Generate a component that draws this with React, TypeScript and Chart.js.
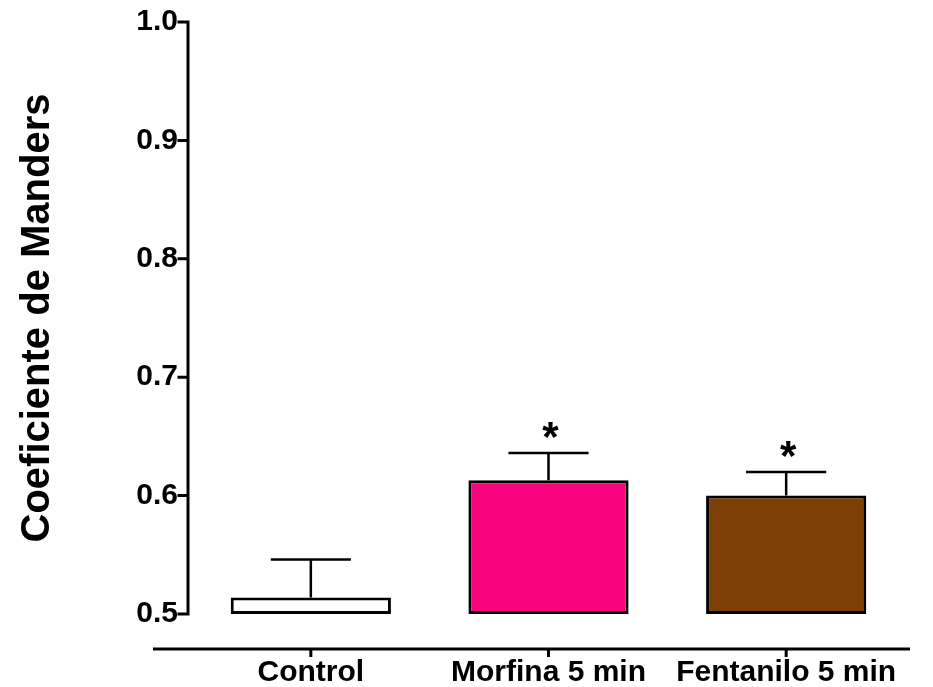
import React, { useEffect, useRef } from "react";
import { Chart, registerables } from "chart.js";

Chart.register(...registerables);

const categories = ["Control", "Morfina 5 min", "Fentanilo 5 min"];
const means = [0.514, 0.613, 0.6];
const errorTops = [0.546, 0.636, 0.62];
const significance = ["", "*", "*"];
const barColors = ["#FFFFFF", "#F8047E", "#7D3F05"];
const yTicks = [0.5, 0.6, 0.7, 0.8, 0.9, 1.0];
const yTitle = "Coeficiente de Manders";

const FONT = "'Liberation Sans', Arial, Helvetica, sans-serif";

const customPlugin = {
  id: "customAxesErrors",
  afterDatasetsDraw(chart: any) {
    const { ctx, chartArea } = chart;
    const x = chart.scales.x;
    const y = chart.scales.y;
    const meta = chart.getDatasetMeta(0);
    ctx.save();
    ctx.strokeStyle = "#000";
    ctx.fillStyle = "#000";
    // error bars and significance marks
    ctx.lineWidth = 2.5;
    meta.data.forEach((bar: any, i: number) => {
      const cx = bar.x;
      const topPx = y.getPixelForValue(means[i]);
      const errPx = y.getPixelForValue(errorTops[i]);
      const half = bar.width / 4;
      ctx.beginPath();
      ctx.moveTo(cx, topPx);
      ctx.lineTo(cx, errPx);
      ctx.moveTo(cx - half, errPx);
      ctx.lineTo(cx + half, errPx);
      ctx.stroke();
      if (significance[i]) {
        ctx.font = `bold 42px ${FONT}`;
        ctx.textAlign = "center";
        ctx.textBaseline = "alphabetic";
        ctx.fillText(significance[i], cx + 2, errPx - 2);
      }
    });
    // y axis line with ticks
    ctx.lineWidth = 3;
    ctx.lineCap = "square";
    const ax = chartArea.left - 4;
    ctx.beginPath();
    ctx.moveTo(ax, y.getPixelForValue(yTicks[yTicks.length - 1]));
    ctx.lineTo(ax, y.getPixelForValue(yTicks[0]));
    yTicks.forEach((v) => {
      const py = y.getPixelForValue(v);
      ctx.moveTo(ax - 9, py);
      ctx.lineTo(ax, py);
    });
    ctx.stroke();
    // x axis line with ticks
    ctx.lineCap = "butt";
    const ay = chartArea.bottom + 35;
    ctx.beginPath();
    ctx.moveTo(chartArea.left - 39, ay);
    ctx.lineTo(chartArea.right + 5, ay);
    categories.forEach((_, i) => {
      const px = x.getPixelForValue(i);
      ctx.moveTo(px, ay);
      ctx.lineTo(px, ay + 8);
    });
    ctx.stroke();
    ctx.restore();
  },
};

export default function App() {
  const canvasRef = useRef<HTMLCanvasElement | null>(null);

  useEffect(() => {
    const canvas = canvasRef.current;
    if (!canvas) return;
    const chart = new Chart(canvas, {
      type: "bar",
      data: {
        labels: categories,
        datasets: [
          {
            data: means,
            base: 0.5,
            backgroundColor: barColors,
            borderColor: "#000",
            borderWidth: 3,
            borderSkipped: false,
            barPercentage: 0.674,
            categoryPercentage: 1,
          } as any,
        ],
      },
      options: {
        responsive: false,
        animation: false,
        layout: { padding: { top: 22, right: 28, left: 0, bottom: 0 } },
        plugins: { legend: { display: false }, tooltip: { enabled: false } },
        scales: {
          x: {
            grid: { display: false, drawTicks: false },
            border: { display: false },
            ticks: {
              color: "#000",
              font: { family: FONT, size: 30, weight: "bold" },
              padding: 41,
              maxRotation: 0,
              autoSkip: false,
            },
            afterFit: (s: any) => {
              s.height = 73;
              s.paddingLeft = 0;
              s.paddingRight = 0;
            },
          },
          y: {
            min: 0.5,
            max: 1.0,
            grid: { display: false, drawTicks: false },
            border: { display: false },
            ticks: {
              color: "#000",
              font: { family: FONT, size: 30, weight: "bold" },
              padding: 14,
              callback: (v: any) => Number(v).toFixed(1),
            },
            afterBuildTicks: (s: any) => {
              s.ticks = yTicks.map((v) => ({ value: v }));
            },
            title: {
              display: true,
              text: yTitle,
              color: "#000",
              font: { family: FONT, size: 40, weight: "bold" },
              padding: { top: 14, bottom: 0 },
            },
            afterFit: (s: any) => {
              s.width = 192;
              s.paddingTop = 0;
              s.paddingBottom = 0;
            },
          },
        },
      } as any,
      plugins: [customPlugin],
    });
    return () => chart.destroy();
  }, []);

  return (
    <div style={{ position: "absolute", left: 0, top: 0, width: 933, height: 687, background: "#fff" }}>
      <canvas ref={canvasRef} width={933} height={687} style={{ display: "block" }} />
    </div>
  );
}
